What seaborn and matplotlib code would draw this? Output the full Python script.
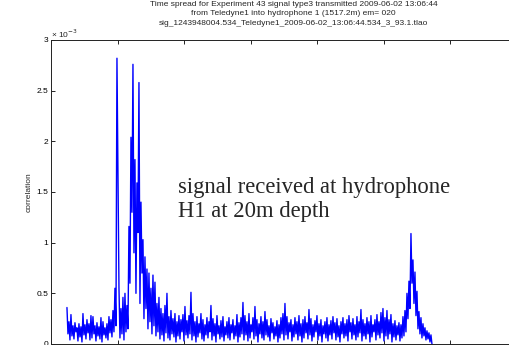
import numpy as np
import pandas as pd
import matplotlib
matplotlib.use("Agg")
import matplotlib.pyplot as plt
import seaborn as sns
from matplotlib.ticker import FuncFormatter, MultipleLocator

# ---- data (correlation values in units of 1e-3) ----
# upper excursions of the trace (every other sample)
peaks_e3 = [
    0.36, 0.22, 0.29, 0.18, 0.21, 0.16, 0.20, 0.17, 0.30, 0.19,
    0.24, 0.20, 0.28, 0.27, 0.18, 0.21, 0.17, 0.26, 0.22, 0.16,
    0.20, 0.27, 0.24, 0.33, 0.55, 2.82, 0.56, 0.35, 0.46, 0.50,
    0.38, 1.16, 2.04, 2.76, 1.82, 1.59, 2.58, 1.40, 1.03, 0.86,
    0.74, 0.70, 0.55, 0.68, 0.61, 0.40, 0.46, 0.35, 0.30, 0.38,
    0.50, 0.27, 0.33, 0.25, 0.30, 0.22, 0.28, 0.24, 0.29, 0.37,
    0.23, 0.28, 0.51, 0.30, 0.22, 0.27, 0.20, 0.30, 0.24, 0.19,
    0.26, 0.22, 0.38, 0.25, 0.20, 0.28, 0.18, 0.23, 0.27, 0.17,
    0.22, 0.26, 0.19, 0.24, 0.18, 0.29, 0.21, 0.26, 0.41, 0.28,
    0.22, 0.30, 0.19, 0.26, 0.37, 0.24, 0.20, 0.27, 0.22, 0.32,
    0.24, 0.18, 0.25, 0.21, 0.17, 0.23, 0.19, 0.26, 0.30, 0.40,
    0.27, 0.21, 0.24, 0.19, 0.26, 0.22, 0.28, 0.20, 0.24, 0.27,
    0.21, 0.34, 0.25, 0.19, 0.23, 0.28, 0.20, 0.24, 0.18, 0.22,
    0.26, 0.19, 0.23, 0.27, 0.21, 0.25, 0.18, 0.22, 0.26, 0.20,
    0.24, 0.28, 0.21, 0.25, 0.19, 0.27, 0.22, 0.34, 0.24, 0.20,
    0.26, 0.22, 0.28, 0.19, 0.24, 0.29, 0.22, 0.31, 0.35, 0.26,
    0.33, 0.24, 0.29, 0.20, 0.23, 0.18, 0.21, 0.19, 0.27, 0.33,
    0.50, 0.62, 1.09, 0.83, 0.71, 0.52, 0.32, 0.26, 0.20, 0.16,
    0.13, 0.11, 0.09,
]
# lower excursions of the trace (the samples in between)
troughs_e3 = [
    0.10, 0.04, 0.08, 0.05, 0.12, 0.03, 0.07, 0.02, 0.09, 0.05,
    0.11, 0.04, 0.06, 0.10, 0.03, 0.08, 0.05, 0.02, 0.09, 0.06,
    0.04, 0.11, 0.07, 0.12, 0.18, 1.69, 0.06, 0.10, 0.04, 0.12,
    0.15, 0.60, 1.30, 0.90, 0.50, 1.10, 0.40, 0.70, 0.25, 0.35,
    0.15, 0.22, 0.10, 0.18, 0.08, 0.12, 0.05, 0.09, 0.03, 0.11,
    0.06, 0.04, 0.10, 0.07, 0.02, 0.08, 0.05, 0.12, 0.03, 0.09,
    0.06, 0.10, 0.04, 0.08, 0.02, 0.07, 0.11, 0.05, 0.03, 0.09,
    0.06, 0.12, 0.04, 0.08, 0.02, 0.10, 0.05, 0.07, 0.03, 0.09,
    0.06, 0.04, 0.11, 0.05, 0.08, 0.02, 0.07, 0.10, 0.04, 0.09,
    0.03, 0.06, 0.12, 0.05, 0.08, 0.02, 0.10, 0.06, 0.04, 0.09,
    0.07, 0.03, 0.11, 0.05, 0.08, 0.02, 0.06, 0.10, 0.04, 0.09,
    0.05, 0.12, 0.03, 0.07, 0.10, 0.04, 0.08, 0.02, 0.06, 0.11,
    0.05, 0.09, 0.03, 0.07, 0.12, 0.04, 0.08, 0.02, 0.10, 0.06,
    0.03, 0.09, 0.05, 0.11, 0.04, 0.07, 0.02, 0.10, 0.06, 0.08,
    0.03, 0.12, 0.05, 0.09, 0.04, 0.07, 0.11, 0.03, 0.08, 0.05,
    0.10, 0.02, 0.07, 0.12, 0.04, 0.09, 0.06, 0.11, 0.03, 0.08,
    0.05, 0.10, 0.02, 0.07, 0.04, 0.09, 0.03, 0.06, 0.08, 0.12,
    0.25, 0.35, 0.60, 0.40, 0.28, 0.15, 0.10, 0.06, 0.08, 0.04,
    0.05, 0.02, 0.00,
]
start_time = 0.24          # time of the first sample
sample_interval = 1 / 66.5  # spacing between samples

title_lines = [
    "Time spread for Experiment 43 signal type3 transmitted 2009-06-02 13:06:44",
    "from Teledyne1 into hydrophone 1 (1517.2m) em= 020",
    "sig_1243948004.534_Teledyne1_2009-06-02_13:06:44.534_3_93.1.tlao",
]
y_ticks_e3 = [0, 0.5, 1, 1.5, 2, 2.5, 3]
annotation = "signal received at hydrophone\nH1 at 20m depth"

# ---- assemble trace ----
trace = []
for p, t in zip(peaks_e3, troughs_e3):
    trace.extend([p, t])
trace = np.array(trace) * 1e-3
time = start_time + sample_interval * np.arange(len(trace))
df = pd.DataFrame({"time": time, "correlation": trace})

sns.set_style("ticks")
plt.rcParams["font.family"] = ["Liberation Sans", "DejaVu Sans"]

fig = plt.figure(figsize=(5.1, 3.45), dpi=100)
ax = fig.add_axes([51 / 510, 1 / 345, 485 / 510, 304 / 345])

sns.lineplot(data=df, x="time", y="correlation", ax=ax, color="#0000ff",
             linewidth=1.0, estimator=None, sort=False)

ax.set_xlim(0, 485 / 66.5)
ax.set_ylim(0, 3e-3)
ax.xaxis.set_major_locator(MultipleLocator(1))
ax.set_yticks([v * 1e-3 for v in y_ticks_e3])
ax.yaxis.set_major_formatter(FuncFormatter(lambda v, _: f"{v * 1e3:g}"))
ax.tick_params(direction="in", length=3, width=0.6, labelsize=6, pad=2,
               top=True, right=False, labelbottom=False, colors="black")
for s in ax.spines.values():
    s.set_linewidth(0.7)
    s.set_color("#222222")
ax.spines["right"].set_visible(False)
ax.set_xlabel("")
ax.set_ylabel("correlation", fontsize=6, labelpad=3)

ax.text(0.0, 1.0, "× 10$^{-3}$", transform=ax.transAxes, fontsize=6,
        ha="left", va="bottom")

ax.set_title("\n".join(title_lines), fontsize=6, pad=11, linespacing=1.45)

ax.text((178 - 51) / 66.5, 1.25e-3, annotation,
        fontsize=16.3, family=["Liberation Serif", "DejaVu Serif"],
        ha="left", va="baseline", linespacing=1.22)

fig.savefig("out.png", dpi=100)
